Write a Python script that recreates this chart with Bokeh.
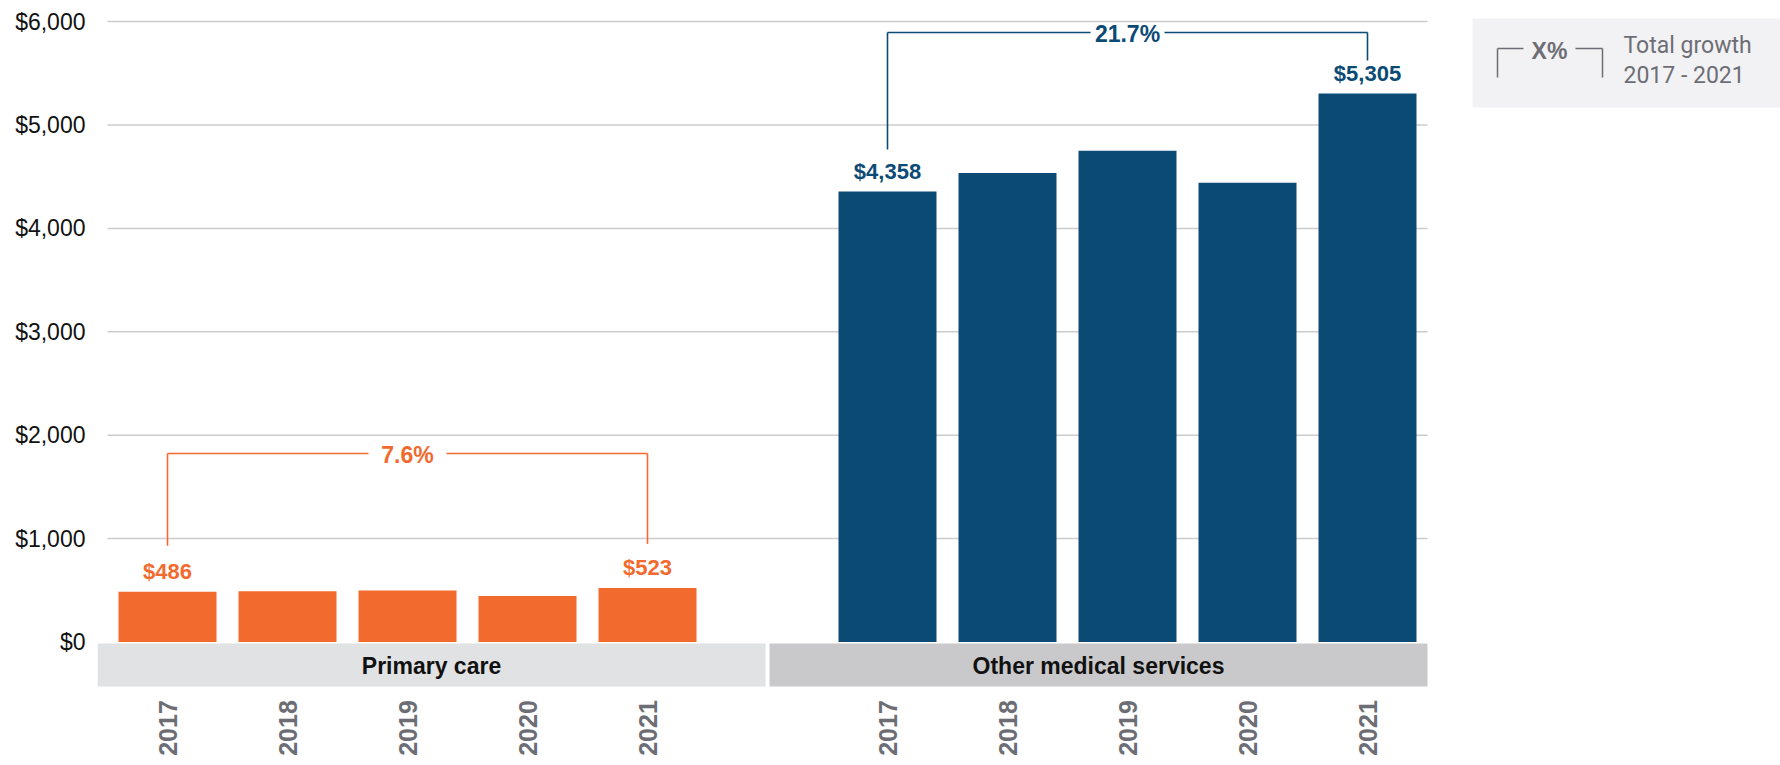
import math
from bokeh.plotting import figure
from bokeh.models import ColumnDataSource, FixedTicker, NumeralTickFormatter, Range1d
from bokeh.core.properties import value
from bokeh.embed import file_html
from bokeh.resources import INLINE

# ---------------- data ----------------
years = ["2017", "2018", "2019", "2020", "2021"]
groups = ["Primary care", "Other medical services"]
primary_care = [486, 490, 498, 445, 523]
other_medical = [4358, 4535, 4752, 4442, 5305]
growth_labels = ["7.6%", "21.7%"]
y_ticks = [0, 1000, 2000, 3000, 4000, 5000, 6000]
legend_symbol = "X%"
legend_text = ["Total growth", "2017 - 2021"]

# ---------------- style ----------------
ORANGE = "#f26a2d"
BLUE = "#0b4a74"
GRAY_TXT = "#6d6e75"
GRID = "#cccccc"
BAND_COLORS = ["#e1e2e4", "#c9c9cb"]
FONT = "Liberation Sans"
FONT2 = "Roboto"

# layout mapping (frame geometry, screen px)
FIG_W, FIG_H = 1780, 765
FRAME_L = 97
SLOT = 120.0
X_START = -0.5 - 10 / SLOT
Y0_PX = 641.5
PPU = 0.1034


def sx(px):
    return X_START + (px - 97) / SLOT


def sy(py):
    return (Y0_PX - py) / PPU


p = figure(width=FIG_W, height=FIG_H, output_backend="svg", toolbar_location=None,
           title=None, x_axis_location=None, y_axis_location="left",
           x_range=Range1d(sx(97), sx(FIG_W)), y_range=Range1d(sy(FIG_H), sy(0)),
           min_border_left=FRAME_L, min_border_right=0, min_border_top=0, min_border_bottom=0,
           outline_line_color=None, background_fill_color="white", border_fill_color="white")
p.grid.visible = False

ax = p.yaxis[0]
ax.ticker = FixedTicker(ticks=y_ticks)
ax.formatter = NumeralTickFormatter(format="$0,0")
ax.axis_line_color = None
ax.major_tick_line_color = None
ax.minor_tick_line_color = None
ax.major_tick_out = 0
ax.major_tick_in = 0
ax.major_label_standoff = 12
ax.major_label_text_font = FONT
ax.major_label_text_font_size = "23px"
ax.major_label_text_color = "#111111"

# gridlines
p.segment(x0=[-0.5] * (len(y_ticks) - 1), x1=[10.5] * (len(y_ticks) - 1),
          y0=y_ticks[1:], y1=y_ticks[1:], line_color=GRID, line_width=1.5)

series = [primary_care, other_medical]
colors = [ORANGE, BLUE]
offsets = [0, 6]
band_px = [(97, 765), (769, 1427)]
drop_gaps = [(46, 44), (42, 33)]
half_gaps = [39, 37]
bracket_px = [453, 32]

for g, (vals, col, off) in enumerate(zip(series, colors, offsets)):
    xs = [off + i for i in range(len(years))]
    src = ColumnDataSource(dict(x=xs, top=vals, year=years))
    p.vbar(x="x", top="top", bottom=0, width=98 / SLOT, source=src,
           fill_color=col, line_color=None)

    # value labels on first and last bars
    lab = ColumnDataSource(dict(x=[xs[0], xs[-1]], y=[vals[0], vals[-1]],
                                t=["${:,}".format(vals[0]), "${:,}".format(vals[-1])]))
    p.text(x="x", y="y", text="t", source=lab, text_align="center",
           text_baseline="alphabetic", y_offset=-20, text_color=col,
           text_font=value(FONT), text_font_style="bold", text_font_size="22px")

    # growth bracket
    lvl = sy(bracket_px[g])
    mid = (xs[0] + xs[-1]) / 2
    hg = half_gaps[g] / SLOT
    ends = [vals[0] + drop_gaps[g][0] / PPU, vals[-1] + drop_gaps[g][1] / PPU]
    p.segment(x0=[xs[0], mid + hg, xs[0], xs[-1]],
              x1=[mid - hg, xs[-1], xs[0], xs[-1]],
              y0=[lvl, lvl, lvl, lvl], y1=[lvl, lvl, ends[0], ends[1]],
              line_color=col, line_width=1.6)
    p.text(x=[mid], y=[lvl], text=[growth_labels[g]], text_align="center",
           text_baseline="middle", y_offset=1, text_color=col,
           text_font=value(FONT), text_font_style="bold", text_font_size="23px")

    # category band
    p.quad(left=[sx(band_px[g][0])], right=[sx(band_px[g][1])],
           top=[sy(643)], bottom=[sy(686)], fill_color=BAND_COLORS[g], line_color=None)
    p.text(x=[(sx(band_px[g][0]) + sx(band_px[g][1])) / 2], y=[sy(665)], text=[groups[g]],
           text_align="center", text_baseline="middle", text_color="#111111",
           text_font=value(FONT), text_font_style="bold", text_font_size="23px")

    # year labels
    p.text(x="x", y=sy(727.5), text="year", source=src, angle=math.pi / 2,
           text_align="center", text_baseline="middle", text_color=GRAY_TXT,
           text_font=value(FONT), text_font_style="bold", text_font_size="25px")

# ---------------- legend ----------------
p.quad(left=[sx(1472)], right=[sx(FIG_W)], top=[sy(18)], bottom=[sy(107)],
       fill_color="#f2f2f4", line_color=None)
p.segment(x0=[sx(1497), sx(1497), sx(1575), sx(1602)],
          x1=[sx(1497), sx(1523), sx(1602), sx(1602)],
          y0=[sy(77), sy(48), sy(48), sy(48)],
          y1=[sy(48), sy(48), sy(48), sy(77)],
          line_color=GRAY_TXT, line_width=1.5)
p.text(x=[sx(1549)], y=[sy(50)], text=[legend_symbol], text_align="center",
       text_baseline="middle", text_color=GRAY_TXT, text_font=value(FONT),
       text_font_style="bold", text_font_size="23px")
p.text(x=[sx(1623), sx(1623)], y=[sy(45), sy(75)], text=legend_text, text_align="left",
       text_baseline="middle", text_color=GRAY_TXT, text_font=value(FONT2),
       text_font_size="23px")

open("out.html", "w").write(file_html(p, INLINE))
